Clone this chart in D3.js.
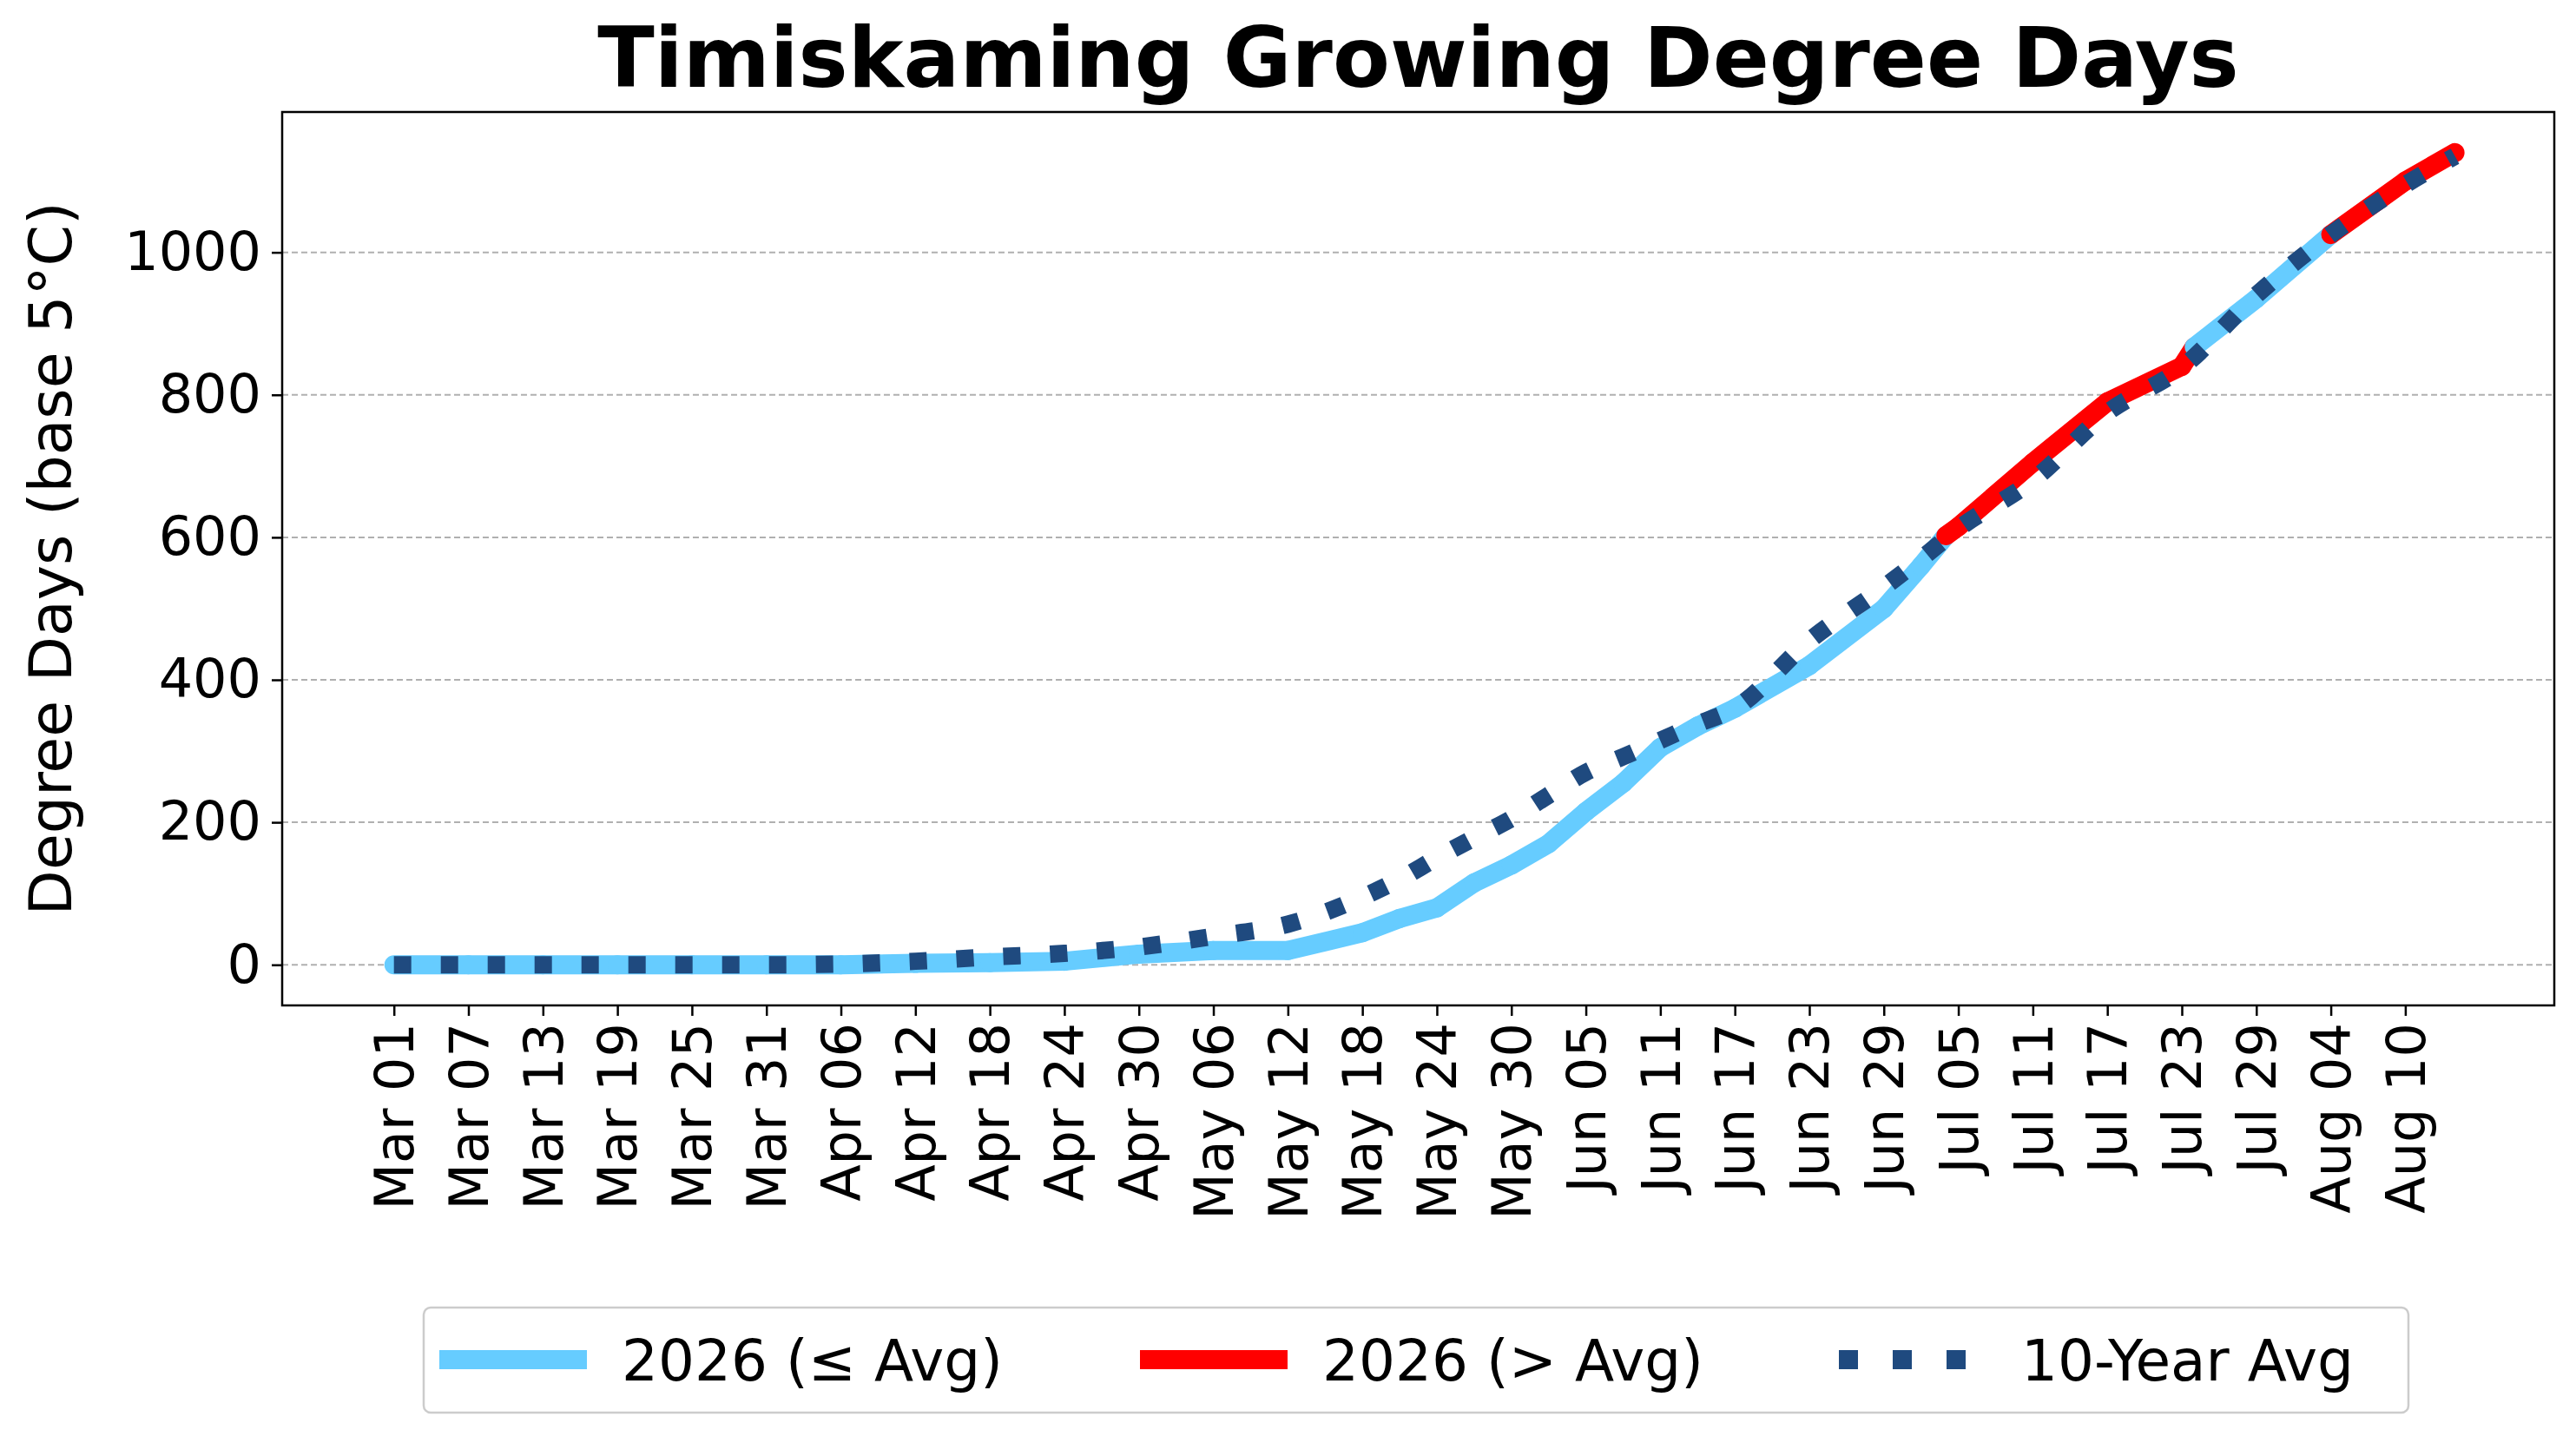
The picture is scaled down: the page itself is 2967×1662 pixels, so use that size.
<!DOCTYPE html>
<html><head><meta charset="utf-8">
<script src="https://cdn.jsdelivr.net/npm/d3@7"></script>
<style>body{margin:0;background:#fff}text{font-family:"DejaVu Sans",sans-serif}</style>
</head><body><div id="chart"></div>
<script>
// day offsets from Mar 01 (2026)
const dayOffsets = [0,6,12,18,24,30,36,42,48,54,60,66,72,78,81,84,87,90,93,96,99,102,105,108,114,120,123,126,132,138,144,150,156,162,166];
const gdd2026 = [0,0,0,0,0,0,0,2,3,5,15,20,20,45,65,80,115,140,170,215,255,305,335,360,420,500,560,615,705,790,840,935,1025,1100,1140];
const gddAvg = [0,0,0,0,0,0,1,5,11,16,25,40,57,95,120,150,178,205,238,270,292,315,338,360,455,530,570,612,680,775,838,940,1025,1095,1135];
const tickDays = d3.range(0, 163, 6);
const yTicks = [0,200,400,600,800,1000];

const W = 2967, H = 1662;
const m = {left: 325, right: 25, top: 129, bottom: 504};
const start = new Date(2026, 2, 1);
const toDate = d => d3.timeDay.offset(start, d);

const svg = d3.select("#chart").append("svg").attr("width", W).attr("height", H);
const x = d3.scaleTime().domain([toDate(-8.3), toDate(174.3)]).range([m.left, W - m.right]);
const y = d3.scaleLinear().domain([-57, 1197]).range([H - m.bottom, m.top]);

// grid
svg.append("g").selectAll("line").data(yTicks).join("line")
  .attr("x1", m.left).attr("x2", W - m.right)
  .attr("y1", d => y(d)).attr("y2", d => y(d))
  .attr("stroke", "#b0b0b0").attr("stroke-width", 2).attr("stroke-dasharray", "7,4");

// axes
const fmt = d3.timeFormat("%b %d");
const xAxis = svg.append("g").attr("transform", `translate(0,${H - m.bottom})`)
  .call(d3.axisBottom(x).tickValues(tickDays.map(toDate)).tickFormat(fmt).tickSize(12).tickPadding(10));
xAxis.selectAll("text").attr("font-size", 62).attr("fill", "#000")
  .attr("transform", "rotate(-90)").attr("text-anchor", "end").attr("dy", "0.35em")
  .attr("x", -20).attr("y", 0);
const yAxis = svg.append("g").attr("transform", `translate(${m.left},0)`)
  .call(d3.axisLeft(y).tickValues(yTicks).tickFormat(d3.format("d")).tickSize(12).tickPadding(12));
yAxis.selectAll("text").attr("font-size", 62).attr("fill", "#000");
svg.selectAll(".domain").remove();
svg.selectAll(".tick line").attr("stroke", "#000").attr("stroke-width", 2.5);
svg.append("rect").attr("x", m.left).attr("y", m.top)
  .attr("width", W - m.left - m.right).attr("height", H - m.top - m.bottom)
  .attr("fill", "none").attr("stroke", "#000").attr("stroke-width", 2.5);

// 2026 line, split into segments by whether it is above the average
const segs = [];
for (let i = 0; i < dayOffsets.length - 1; i++) {
  const d0 = dayOffsets[i], d1 = dayOffsets[i+1];
  const a0 = gdd2026[i], a1 = gdd2026[i+1];
  const diff0 = a0 - gddAvg[i], diff1 = a1 - gddAvg[i+1];
  if ((diff0 > 0) !== (diff1 > 0) && diff0 !== diff1) {
    const t = diff0 / (diff0 - diff1);
    const dm = d0 + t * (d1 - d0), am = a0 + t * (a1 - a0);
    segs.push({pts: [[d0,a0],[dm,am]], up: diff0 > 0});
    segs.push({pts: [[dm,am],[d1,a1]], up: diff1 > 0});
  } else {
    segs.push({pts: [[d0,a0],[d1,a1]], up: diff0 > 0 && diff1 > 0});
  }
}
const line = d3.line().x(p => x(toDate(p[0]))).y(p => y(p[1]));
svg.append("g").selectAll("path").data(segs).join("path")
  .attr("d", s => line(s.pts)).attr("fill", "none")
  .attr("stroke", s => s.up ? "#ff0000" : "#66ccff")
  .attr("stroke-width", 22).attr("stroke-linecap", "round").attr("stroke-linejoin", "round");

// average
svg.append("path").datum(dayOffsets.map((d, i) => [d, gddAvg[i]]))
  .attr("d", d3.line().x(p => x(toDate(p[0]))).y(p => y(p[1])).curve(d3.curveMonotoneX))
  .attr("fill", "none").attr("stroke", "#1f4a7f").attr("stroke-width", 20)
  .attr("stroke-dasharray", "20,34");

// title & labels
svg.append("text").attr("x", (m.left + W - m.right) / 2).attr("y", 100)
  .attr("text-anchor", "middle").attr("font-size", 96).attr("font-weight", "bold")
  .text("Timiskaming Growing Degree Days");
svg.append("text").attr("transform", `translate(82,${(m.top + H - m.bottom) / 2}) rotate(-90)`)
  .attr("text-anchor", "middle").attr("font-size", 68).text("Degree Days (base 5°C)");

// legend
const lg = svg.append("g").attr("transform", "translate(488,1506)");
lg.append("rect").attr("width", 2286).attr("height", 121).attr("rx", 8)
  .attr("fill", "#fff").attr("stroke", "#ccc").attr("stroke-width", 2.5);
const items = [
  {label: "2026 (≤ Avg)", color: "#66ccff", dash: null, x: 18},
  {label: "2026 (> Avg)", color: "#ff0000", dash: null, x: 825},
  {label: "10-Year Avg", color: "#1f4a7f", dash: "22,40", x: 1630}
];
items.forEach(it => {
  lg.append("line").attr("x1", it.x).attr("x2", it.x + 170).attr("y1", 60).attr("y2", 60)
    .attr("stroke", it.color).attr("stroke-width", 22)
    .attr("stroke-dasharray", it.dash);
  lg.append("text").attr("x", it.x + 210).attr("y", 84).attr("font-size", 66).text(it.label);
});
</script></body></html>
